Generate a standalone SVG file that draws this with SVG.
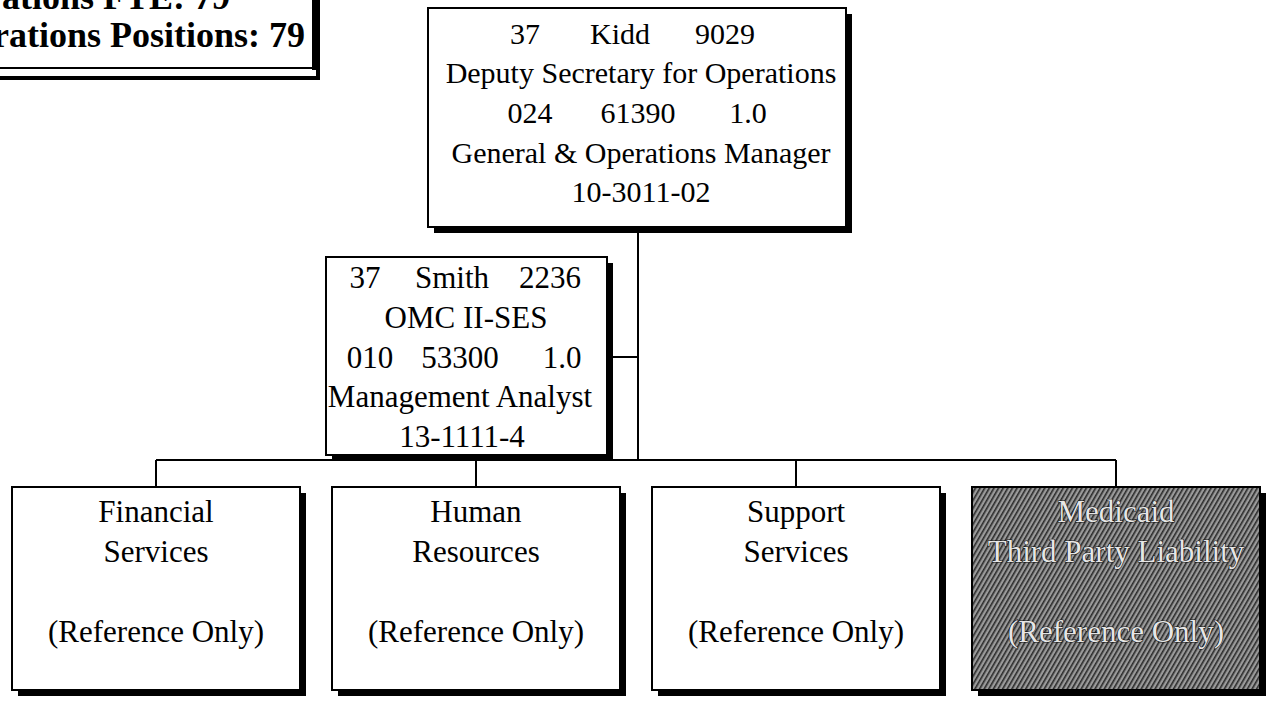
<svg xmlns="http://www.w3.org/2000/svg" width="1274" height="703" viewBox="0 0 1274 703">
<style>
.box{fill:#fff;stroke:#000;stroke-width:2}
.sh{fill:#000}
.t{font-family:"Liberation Serif","Times New Roman",serif;font-size:30px;fill:#000;text-anchor:middle}
.t31{font-size:31px}
.hd{font-family:"Liberation Serif","Times New Roman",serif;font-size:36px;font-weight:bold;fill:#000;text-anchor:end}
.conn{stroke:#000;stroke-width:2;fill:none}
.mt{fill:#e6e6e6;stroke:#111;stroke-width:1.2;paint-order:stroke}
</style>
<defs>
<pattern id="hatch" width="4" height="4" patternUnits="userSpaceOnUse" patternTransform="rotate(30)">
<rect width="4" height="4" fill="#9a9a9a"/>
<rect width="1.6" height="4" fill="#2a2a2a"/>
</pattern>
</defs>
<rect width="1274" height="703" fill="#fff"/>
<g id="header">
<rect x="-10" y="-10" width="323" height="78" class="box"/>
<path d="M-10 78 H318 V-10" stroke="#000" stroke-width="4" fill="none"/>
<rect x="312" y="-10" width="7" height="80" fill="#000"/>
<text class="hd" x="230" y="9">ations FTE: 79</text>
<text class="hd" x="305" y="47">rations Positions: 79</text>
</g>
<g id="connectors">
<path class="conn" d="M638 227 V460"/>
<path class="conn" d="M612 357 H638"/>
<path class="conn" d="M156 460 H1116"/>
<path class="conn" d="M156 460 V487 M476 460 V487 M796 460 V487 M1116 460 V487"/>
</g>
<g id="kidd">
<rect x="434" y="14" width="418" height="219" class="sh"/>
<rect x="428" y="8" width="418" height="219" class="box"/>
<text class="t" y="44"><tspan x="525">37</tspan><tspan x="620">Kidd</tspan><tspan x="725">9029</tspan></text>
<text class="t" x="641" y="83">Deputy Secretary for Operations</text>
<text class="t" y="123"><tspan x="530">024</tspan><tspan x="638">61390</tspan><tspan x="748">1.0</tspan></text>
<text class="t" x="641" y="163">General &amp; Operations Manager</text>
<text class="t" x="641" y="202">10-3011-02</text>
</g>
<g id="smith">
<rect x="332" y="263" width="281" height="198" class="sh"/>
<rect x="326" y="257" width="281" height="198" class="box"/>
<text class="t t31" y="288"><tspan x="365">37</tspan><tspan x="452">Smith</tspan><tspan x="550">2236</tspan></text>
<text class="t t31" x="466" y="328">OMC II-SES</text>
<text class="t t31" y="368"><tspan x="370">010</tspan><tspan x="460">53300</tspan><tspan x="562">1.0</tspan></text>
<text class="t t31" x="460" y="407">Management Analyst</text>
<text class="t t31" x="462" y="447">13-1111-4</text>
</g>
<g id="financial">
<rect x="18" y="493" width="288" height="203" class="sh"/>
<rect x="12" y="487" width="288" height="203" class="box"/>
<text class="t t31" x="156" y="522">Financial</text>
<text class="t t31" x="156" y="562">Services</text>
<text class="t t31" x="156" y="642">(Reference Only)</text>
</g>
<g id="human">
<rect x="338" y="493" width="288" height="203" class="sh"/>
<rect x="332" y="487" width="288" height="203" class="box"/>
<text class="t t31" x="476" y="522">Human</text>
<text class="t t31" x="476" y="562">Resources</text>
<text class="t t31" x="476" y="642">(Reference Only)</text>
</g>
<g id="support">
<rect x="658" y="493" width="288" height="203" class="sh"/>
<rect x="652" y="487" width="288" height="203" class="box"/>
<text class="t t31" x="796" y="522">Support</text>
<text class="t t31" x="796" y="562">Services</text>
<text class="t t31" x="796" y="642">(Reference Only)</text>
</g>
<g id="medicaid">
<rect x="978" y="493" width="288" height="203" class="sh"/>
<rect x="972" y="487" width="288" height="203" fill="url(#hatch)" stroke="#000" stroke-width="2"/>
<text class="t t31 mt" x="1116" y="522">Medicaid</text>
<text class="t t31 mt" x="1116" y="562">Third Party Liability</text>
<text class="t t31 mt" x="1116" y="642">(Reference Only)</text>
</g>
</svg>
